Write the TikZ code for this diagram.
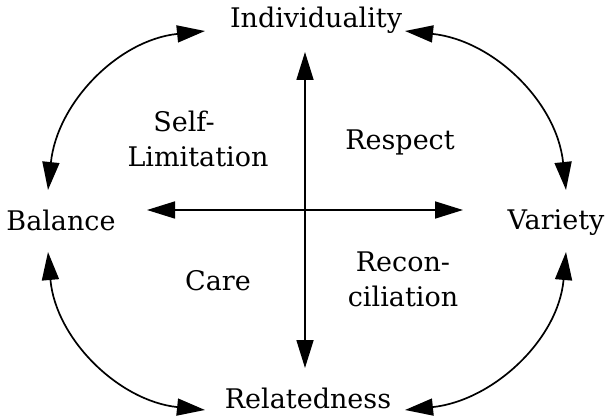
\documentclass[tikz,border=0pt]{standalone}
\usepackage{fontspec}
\setmainfont{DejaVu Serif}
\usetikzlibrary{arrows.meta}

\begin{document}
\begin{tikzpicture}[x=1pt,y=1pt,
  every node/.style={inner sep=0pt,font=\fontsize{27}{35}\selectfont},
  lbl/.style={anchor=base},
  dbl/.style={{Triangle[length=28pt,width=17pt]}-{Triangle[length=28pt,width=17pt]},line width=1.7pt}]
\useasboundingbox (0,0) rectangle (610,418) ;
\node[lbl] (ind) at (316,390) {Individuality} ;
\node[lbl] (bal) at (61,187) {Balance} ;
\node[lbl] (var) at (556,188) {Variety} ;
\node[lbl] (rel) at (308,10) {Relatedness} ;
\node[align=center] (self) at (198,279) {Self-\hspace*{28pt}\\Limitation} ;
\node[lbl] (resp) at (400,268) {Respect} ;
\node[lbl] (care) at (218,128) {Care} ;
\node[align=center] (recon) at (403,139) {Recon-\\ciliation} ;
\coordinate (up) at (305,366) ;
\coordinate (down) at (305,50) ;
\coordinate (left) at (147,208) ;
\coordinate (right) at (463,208) ;
\draw[dbl] (up) -- (down) ;
\draw[dbl] (left) -- (right) ;
\draw[dbl] ([xshift=-13pt,yshift=41pt]bal.base) to[out=84,in=186] ([xshift=-111pt,yshift=-3pt]ind.base) ;
\draw[dbl] ([xshift=89pt,yshift=-3pt]ind.base) to[out=-6,in=96] ([xshift=10pt,yshift=40pt]var.base) ;
\draw[dbl] ([xshift=10pt,yshift=-22pt]var.base) to[out=-95,in=6] ([xshift=97pt,yshift=-2pt]rel.base) ;
\draw[dbl] ([xshift=-13pt,yshift=-21pt]bal.base) to[out=-85,in=174] ([xshift=-103pt,yshift=-2pt]rel.base) ;
\end{tikzpicture}
\end{document}
